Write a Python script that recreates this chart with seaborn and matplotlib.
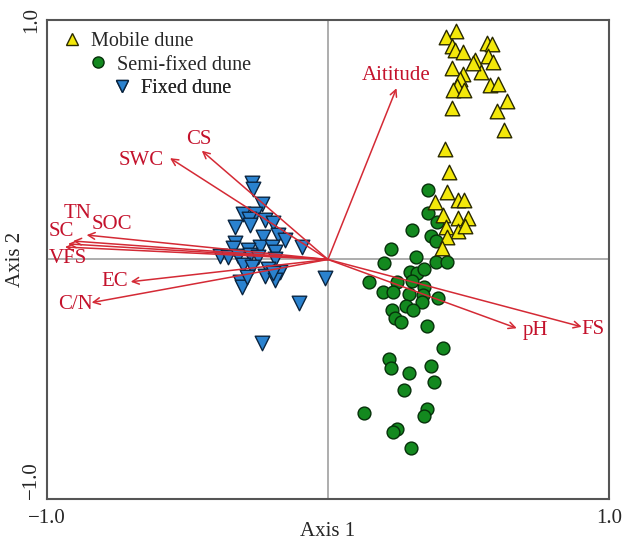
import numpy as np
import pandas as pd
import matplotlib
matplotlib.use("Agg")
import matplotlib.pyplot as plt
import seaborn as sns

# sample scores (Axis 1, Axis 2)
mobile_x = [0.456, 0.420, 0.441, 0.452, 0.480, 0.566, 0.584, 0.523, 0.569, 0.587,
            0.441, 0.480, 0.544, 0.516, 0.470, 0.459, 0.445, 0.484, 0.577, 0.605,
            0.637, 0.601, 0.441, 0.626, 0.416, 0.431, 0.423, 0.381, 0.463, 0.484,
            0.409, 0.463, 0.498, 0.420, 0.463, 0.423, 0.406, 0.488]
mobile_y = [0.954, 0.929, 0.891, 0.875, 0.866, 0.904, 0.900, 0.833, 0.850, 0.825,
            0.800, 0.775, 0.783, 0.820, 0.754, 0.724, 0.708, 0.708, 0.729, 0.733,
            0.662, 0.620, 0.633, 0.541, 0.461, 0.365, 0.282, 0.240, 0.248, 0.248,
            0.186, 0.173, 0.173, 0.136, 0.119, 0.094, 0.048, 0.140]

semi_x = [0.356, 0.356, 0.388, 0.299, 0.367, 0.384, 0.224, 0.313, 0.384, 0.423,
          0.199, 0.292, 0.317, 0.342, 0.146, 0.246, 0.299, 0.342, 0.196, 0.231,
          0.288, 0.338, 0.391, 0.278, 0.335, 0.228, 0.302, 0.238, 0.260, 0.352,
          0.409, 0.217, 0.224, 0.367, 0.288, 0.377, 0.270, 0.352, 0.342, 0.128,
          0.246, 0.231, 0.295]
semi_y = [0.290, 0.194, 0.157, 0.123, 0.098, 0.077, 0.044, 0.010, -0.010, -0.010,
          -0.015, -0.052, -0.056, -0.040, -0.094, -0.094, -0.090, -0.115, -0.136, -0.136,
          -0.144, -0.148, -0.161, -0.194, -0.177, -0.211, -0.211, -0.244, -0.261, -0.278,
          -0.370, -0.415, -0.453, -0.445, -0.474, -0.511, -0.545, -0.624, -0.653, -0.641,
          -0.708, -0.720, -0.787]

fixed_x = [-0.270, -0.267, -0.235, -0.302, -0.260, -0.281, -0.224, -0.196, -0.331, -0.278,
           -0.178, -0.231, -0.153, -0.093, -0.331, -0.242, -0.199, -0.338, -0.285, -0.189,
           -0.384, -0.356, -0.320, -0.278, -0.249, -0.189, -0.302, -0.270, -0.214, -0.171,
           -0.224, -0.189, -0.313, -0.306, -0.011, -0.103, -0.235, -0.196, -0.288]
fixed_y = [0.319, 0.294, 0.232, 0.190, 0.190, 0.169, 0.165, 0.152, 0.136, 0.144,
           0.102, 0.094, 0.081, 0.052, 0.069, 0.052, 0.052, 0.048, 0.040, 0.031,
           0.015, 0.010, 0.015, 0.019, 0.010, 0.002, -0.023, -0.031, -0.040, -0.052,
           -0.069, -0.086, -0.094, -0.115, -0.077, -0.182, -0.349, -0.056, -0.073]

# environmental vectors
env_names = ["Aititude", "CS", "SWC", "TN", "SOC", "SC", "VFS", "EC", "C/N", "pH", "FS"]
env_x = [0.244, -0.449, -0.562, -0.907, -0.859, -0.925, -0.936, -0.702, -0.841, 0.672, 0.903]
env_y = [0.715, 0.454, 0.423, 0.077, 0.102, 0.065, 0.052, -0.093, -0.180, -0.287, -0.281]
# where each vector's name sits
lab_x = [0.244, -0.459, -0.663, -0.890, -0.770, -0.948, -0.925, -0.758, -0.900, 0.737, 0.943]
lab_y = [0.766, 0.499, 0.415, 0.194, 0.144, 0.116, 0.006, -0.093, -0.190, -0.297, -0.294]

df = pd.concat([
    pd.DataFrame({"ax1": mobile_x, "ax2": mobile_y, "group": "Mobile dune"}),
    pd.DataFrame({"ax1": semi_x, "ax2": semi_y, "group": "Semi-fixed dune"}),
    pd.DataFrame({"ax1": fixed_x, "ax2": fixed_y, "group": "Fixed dune"}),
], ignore_index=True)

sns.set_style("white")
plt.rcParams["font.family"] = ["Liberation Serif", "DejaVu Serif"]

fig = plt.figure(figsize=(6.23, 5.45), dpi=100)
ax = fig.add_axes([0.0754, 0.0844, 0.902, 0.879])

ax.axhline(0, color="#a0a0a0", lw=1.2, zorder=1)
ax.axvline(0, color="#a0a0a0", lw=1.2, zorder=1)

styles = {
    "Semi-fixed dune": dict(marker="o", color="#13891f", edge="#06300a", s=85),
    "Mobile dune": dict(marker="^", color="#f3e80a", edge="#2a2a00", s=110),
    "Fixed dune": dict(marker="v", color="#2a82cf", edge="#0b2540", s=110),
}
for g in ["Semi-fixed dune", "Mobile dune", "Fixed dune"]:
    st = styles[g]
    sns.scatterplot(data=df[df["group"] == g], x="ax1", y="ax2", marker=st["marker"],
                    color=st["color"], edgecolor=st["edge"], linewidth=1.0, s=st["s"],
                    ax=ax, legend=False, zorder=3)

red = "#d42a35"
for name, ex, ey, lx, ly in zip(env_names, env_x, env_y, lab_x, lab_y):
    ax.annotate("", xy=(ex, ey), xytext=(0, 0),
                arrowprops=dict(arrowstyle="->", color=red, lw=1.1,
                                shrinkA=0, shrinkB=0, mutation_scale=12),
                zorder=4)
    ax.text(lx, ly, name, color="#c4122c", fontsize=15, ha="center", va="center", zorder=5)

# staggered legend, one entry per group
leg_pos = [("Mobile dune", 0.029, 0.956), ("Semi-fixed dune", 0.074, 0.906), ("Fixed dune", 0.118, 0.856)]
for g, lx, ly in leg_pos:
    st = styles[g]
    h = plt.Line2D([], [], ls="", marker=st["marker"], markerfacecolor=st["color"],
                   markeredgecolor=st["edge"], markersize=8 if st["marker"] == "o" else 9)
    leg = ax.legend([h], [g], loc="center left", bbox_to_anchor=(lx, ly), frameon=False,
                    borderpad=0, borderaxespad=0, handlelength=0.9, handletextpad=0.5,
                    fontsize=14.5)
    ax.add_artist(leg)

ax.set_xlim(-1, 1)
ax.set_ylim(-1, 1)
ticks = [-1, -0.5, 0, 0.5, 1]
ax.set_xticks(ticks)
ax.set_yticks(ticks)
ax.set_xticklabels(["\u22121.0", "", "", "", "1.0"], fontsize=15)
ax.set_yticklabels(["\u22121.0", "", "", "", "1.0"], fontsize=15, rotation=90, va="center")
ax.get_yticklabels()[0].set_va("bottom")
ax.tick_params(direction="inout", length=6, width=1.2, color="#444444", pad=4)
ax.tick_params(axis="y", pad=1)
for sp in ax.spines.values():
    sp.set_color("#555555")
    sp.set_linewidth(1.5)

ax.set_xlabel("Axis 1", fontsize=15, labelpad=-4)
ax.set_ylabel("Axis 2", fontsize=15, labelpad=-2)

fig.savefig("out.png", dpi=100)
